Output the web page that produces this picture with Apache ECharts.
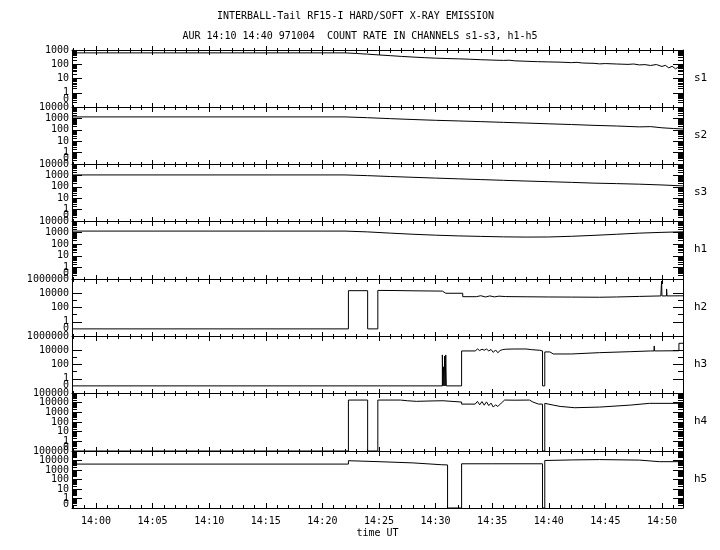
<!DOCTYPE html>
<html><head><meta charset="utf-8">
<script src="https://cdn.jsdelivr.net/npm/echarts@6/dist/echarts.min.js"></script>
<style>html,body{margin:0;padding:0;background:#fff}#c{width:720px;height:550px}</style>
</head><body><div id="c"></div>
<script>
// ---------------- text ----------------
const titleLine1 = 'INTERBALL-Tail RF15-I HARD/SOFT X-RAY EMISSION';
const titleLine2 = 'AUR 14:10 14:40 971004  COUNT RATE IN CHANNELS s1-s3, h1-h5';
const xAxisName = 'time UT';
const xTickLabels = ['14:00','14:05','14:10','14:15','14:20','14:25','14:30','14:35','14:40','14:45','14:50'];
const channelNames = ['s1','s2','s3','h1','h2','h3','h4','h5'];
const yLabelsS1 = ['1000','100','10','1','0'];
const yLabels4 = ['10000','1000','100','10','1','0'];
const yLabels6 = ['1000000','10000','100','1','0'];
const yLabels5 = ['100000','10000','1000','100','10','1','0'];

// ---------------- data: [minutes after 14:00, count rate] ----------------
const s1 = [[-2.12,630],[22.0,630],[23,570],[24,510],[25,450],[26,400],[27,355],[28,320],[29,290],[30,268],[31,252],[32,240],[33,226],[34,208],[35,196],[36,186],[36.5,192],[37,174],[38,162],[39,152],[40,146],[41,140],[42,130],[42.5,136],[43,122],[44,116],[44.5,106],[45,112],[46,104],[47,98],[47.5,104],[48,90],[48.5,94],[49,82],[49.5,96],[50,70],[50.3,84],[50.6,56],[50.9,72],[51.2,48],[51.5,66],[51.86,58]];
const s2 = [[-2.12,1350],[22.0,1350],[24,1150],[26,950],[28,800],[30,680],[32,600],[34,520],[36,450],[38,390],[40,335],[42,290],[44,245],[46,215],[48,180],[49,190],[50,150],[51,130],[51.86,118]];
const s3 = [[-2.12,1100],[22.0,1100],[24,950],[26,800],[28,680],[30,580],[32,500],[34,430],[36,370],[38,320],[40,280],[42,245],[44,210],[46,190],[48,170],[50,145],[51.86,120]];
const h1 = [[-2.12,1350],[22.0,1350],[24,1150],[26,900],[28,720],[30,600],[32,520],[34,470],[36,430],[38,410],[40,420],[42,480],[44,580],[46,720],[48,900],[50,1050],[51.86,1170]];
const h2 = [[-2.12,0],[22.3,0],[22.3,23000],[24.0,23000],[24.0,0],[24.9,0],[24.9,25000],[26.5,24000],[28,22000],[30.6,20000],[30.9,10000],[32.4,10000],[32.4,3300],[33.6,3300],[34.0,4500],[34.4,3000],[34.8,4200],[35.2,3100],[35.6,3900],[36.2,3400],[38,3200],[40,3000],[42,2900],[44.5,2750],[46,3000],[48,3600],[49.9,4200],[49.97,4200],[49.97,520000],[50.0,4200],[50.4,4200],[50.41,40000],[50.45,4200],[51.86,4400]];
const h3 = [[-2.12,0],[30.6,0],[30.6,2200],[30.65,0],[30.7,46],[30.75,0],[30.8,1500],[30.85,0],[30.9,2200],[30.95,0],[32.3,0],[32.3,8000],[33.5,8000],[33.7,15000],[33.9,9000],[34.1,14000],[34.3,10000],[34.5,15000],[34.7,8000],[34.9,13000],[35.1,5000],[35.3,11000],[35.5,4500],[35.7,9000],[35.9,12000],[36.2,14000],[37,15000],[38,15000],[38.5,12000],[39.2,10000],[39.45,8000],[39.45,0],[39.65,0],[39.65,5800],[40.1,5800],[40.4,3000],[42,3000],[44.5,4600],[47.2,6300],[49.0,8000],[49.3,8000],[49.32,40000],[49.34,8000],[51.3,8500],[51.5,8500],[51.5,95000],[51.86,95000]];
const h4 = [[-2.12,0],[22.3,0],[22.3,18600],[24.0,18600],[24.0,0],[24.9,0],[24.9,18600],[26.9,18600],[27.5,15800],[28.3,13700],[29.6,15000],[30.65,15800],[30.65,11600],[32.3,11600],[32.3,7100],[33.5,7100],[33.7,13700],[33.9,6000],[34.1,13000],[34.3,5500],[34.5,12000],[34.7,5000],[34.9,9000],[35.1,3500],[35.3,6000],[35.5,4000],[35.8,9000],[36.1,18600],[37,18000],[38.3,18600],[38.6,11600],[39.1,7100],[39.45,7100],[39.45,0],[39.65,0],[39.65,8500],[40.4,5600],[41.0,4100],[42.3,3000],[44.5,3500],[47.2,5600],[48.9,8500],[51.86,8500]];
const h5 = [[-2.12,4200],[22.3,4200],[22.3,9500],[25,7500],[28,5600],[30.5,3600],[31.06,3400],[31.06,0],[32.3,0],[32.3,4500],[35,4500],[39.45,4500],[39.45,0],[39.65,0],[39.65,10000],[42,11500],[44.5,12500],[48,11000],[49.8,7500],[51.86,7500]];

// ---------------- layout / style ----------------
const panelTops = [50,107,164,221,279,336,393,451,508];
const plotLeft = 72, plotRight = 683;
const XMIN = -2.12, XMAX = 51.86;
const FONT = '"DejaVu Sans Mono", "Liberation Mono", monospace';

const panels = [
  {data:s1, labels:yLabelsS1, min:-1, max:3, zero:-0.5, dense:true},
  {data:s2, labels:yLabels4, min:-1, max:4, zero:-0.5, dense:true},
  {data:s3, labels:yLabels4, min:-1, max:4, zero:-0.5, dense:true},
  {data:h1, labels:yLabels4, min:-1, max:4, zero:-0.5, dense:true},
  {data:h2, labels:yLabels6, min:-2, max:6, zero:-1, dense:false},
  {data:h3, labels:yLabels6, min:-2, max:6, zero:-1, dense:false},
  {data:h4, labels:yLabels5, min:-1, max:5, zero:-0.65, dense:true},
  {data:h5, labels:yLabels5, min:-1, max:5, zero:-0.65, dense:true}
];

function toLog(v){ return v > 0 ? Math.log10(v) : -1; }
const majorX = xTickLabels.map(s => (parseInt(s.slice(0,2),10)-14)*60 + parseInt(s.slice(3),10));
const minorX = [];
for (let m = Math.ceil(XMIN); m <= Math.floor(XMAX); m++) if (m % 5 !== 0) minorX.push(m);

const black = {color:'#000', width:1};
const grids = [], xAxes = [], yAxes = [], series = [], graphics = [];

panels.forEach((p, k) => {
  const top = panelTops[k], h = panelTops[k+1] - panelTops[k];
  grids.push({left:plotLeft, width:plotRight-plotLeft, top:top, height:h, containLabel:false, outerBoundsMode:'none'});
  const xBase = {gridIndex:k, type:'value', min:XMIN, max:XMAX, splitLine:{show:false}, axisLabel:{show:false}, silent:true};
  const mainX = xAxes.length;
  xAxes.push(Object.assign({}, xBase, {position:'top', axisLine:{show:true,onZero:false,lineStyle:black}, axisTick:{show:true,inside:true,length:5,customValues:majorX,lineStyle:black}}));
  xAxes.push(Object.assign({}, xBase, {position:'top', axisLine:{show:false,onZero:false}, axisTick:{show:true,inside:false,length:4,customValues:majorX,lineStyle:black}}));
  xAxes.push(Object.assign({}, xBase, {position:'top', axisLine:{show:false,onZero:false}, axisTick:{show:true,inside:true,length:3,customValues:minorX,lineStyle:black}}));
  xAxes.push(Object.assign({}, xBase, {position:'top', axisLine:{show:false,onZero:false}, axisTick:{show:true,inside:false,length:2,customValues:minorX,lineStyle:black}}));
  if (k === panels.length - 1) {
    xAxes.push(Object.assign({}, xBase, {position:'bottom', axisLine:{show:true,onZero:false,lineStyle:black},
      axisTick:{show:true,inside:true,length:5,customValues:majorX,lineStyle:black},
      axisLabel:{show:true,customValues:majorX,margin:8,hideOverlap:false,fontFamily:FONT,fontSize:10,color:'#000',
        formatter:v => { const i = majorX.indexOf(Math.round(v)); return i >= 0 ? xTickLabels[i] : ''; }},
      name:xAxisName, nameLocation:'middle', nameGap:20, nameTextStyle:{fontFamily:FONT,fontSize:10,color:'#000'}}));
    xAxes.push(Object.assign({}, xBase, {position:'bottom', axisLine:{show:false,onZero:false}, axisTick:{show:true,inside:true,length:3,customValues:minorX,lineStyle:black}}));
  }
  // y ticks
  let majors = [], minors = [];
  if (p.dense) {
    for (let d = p.min; d <= p.max; d++) majors.push(d);
    for (let d = p.min; d < p.max; d++) for (let q = 2; q <= 9; q++) minors.push(d + Math.log10(q));
  } else {
    majors = [0,2,4];
    minors = [1,3];
  }
  const labelPos = p.labels.map(s => s === '0' ? p.zero : Math.log10(Number(s)));
  const yBase = {gridIndex:k, type:'value', min:p.min, max:p.max, splitLine:{show:false}, axisLabel:{show:false}, silent:true};
  const mainY = yAxes.length;
  // labels are split over two coincident axes (alternating) so none of them gets hidden as overlapping
  const labelAxis = (parity, withLine) => {
    const pos = labelPos.filter((_, i) => i % 2 === parity);
    return Object.assign({}, yBase, {position:'left', axisLine:{show:withLine,onZero:false,lineStyle:black},
      axisTick:{show:withLine,inside:true,length:10,customValues:majors,lineStyle:black},
      axisLabel:{show:true,customValues:pos,margin:3,hideOverlap:false,showMinLabel:true,showMaxLabel:true,
        fontFamily:FONT,fontSize:10,color:'#000',
        formatter:v => { const i = labelPos.findIndex(q => Math.abs(q - v) < 1e-6); return i >= 0 ? p.labels[i] : ''; }}});
  };
  yAxes.push(labelAxis(0, true));
  yAxes.push(labelAxis(1, false));
  yAxes.push(Object.assign({}, yBase, {position:'left', axisLine:{show:false,onZero:false}, axisTick:{show:true,inside:true,length:5,customValues:minors,lineStyle:black}}));
  yAxes.push(Object.assign({}, yBase, {position:'right', axisLine:{show:true,onZero:false,lineStyle:black}, axisTick:{show:true,inside:true,length:10,customValues:majors,lineStyle:black}}));
  yAxes.push(Object.assign({}, yBase, {position:'right', axisLine:{show:false,onZero:false}, axisTick:{show:true,inside:true,length:5,customValues:minors,lineStyle:black}}));

  series.push({type:'line', name:channelNames[k], xAxisIndex:mainX, yAxisIndex:mainY,
    data:p.data.map(d => [d[0], toLog(d[1])]), showSymbol:false, symbol:'none', silent:true,
    lineStyle:{color:'#000', width:1}, clip:true, animation:false});

  graphics.push({type:'text', left:694, top:(top + h/2) - 6, silent:true,
    style:{text:channelNames[k], font:'11px ' + FONT, fill:'#000'}});
});

const chart = echarts.init(document.getElementById('c'), null, {renderer:'canvas'});
chart.setOption({
  backgroundColor:'#fff',
  animation:false,
  title:[
    {text:titleLine1, left:212, top:6, textStyle:{fontFamily:FONT, fontSize:10, fontWeight:'normal', color:'#000'}},
    {text:titleLine2, left:'center', top:26, textStyle:{fontFamily:FONT, fontSize:10, fontWeight:'normal', color:'#000'}}
  ],
  grid:grids, xAxis:xAxes, yAxis:yAxes, series:series, graphic:graphics
});
</script></body></html>
